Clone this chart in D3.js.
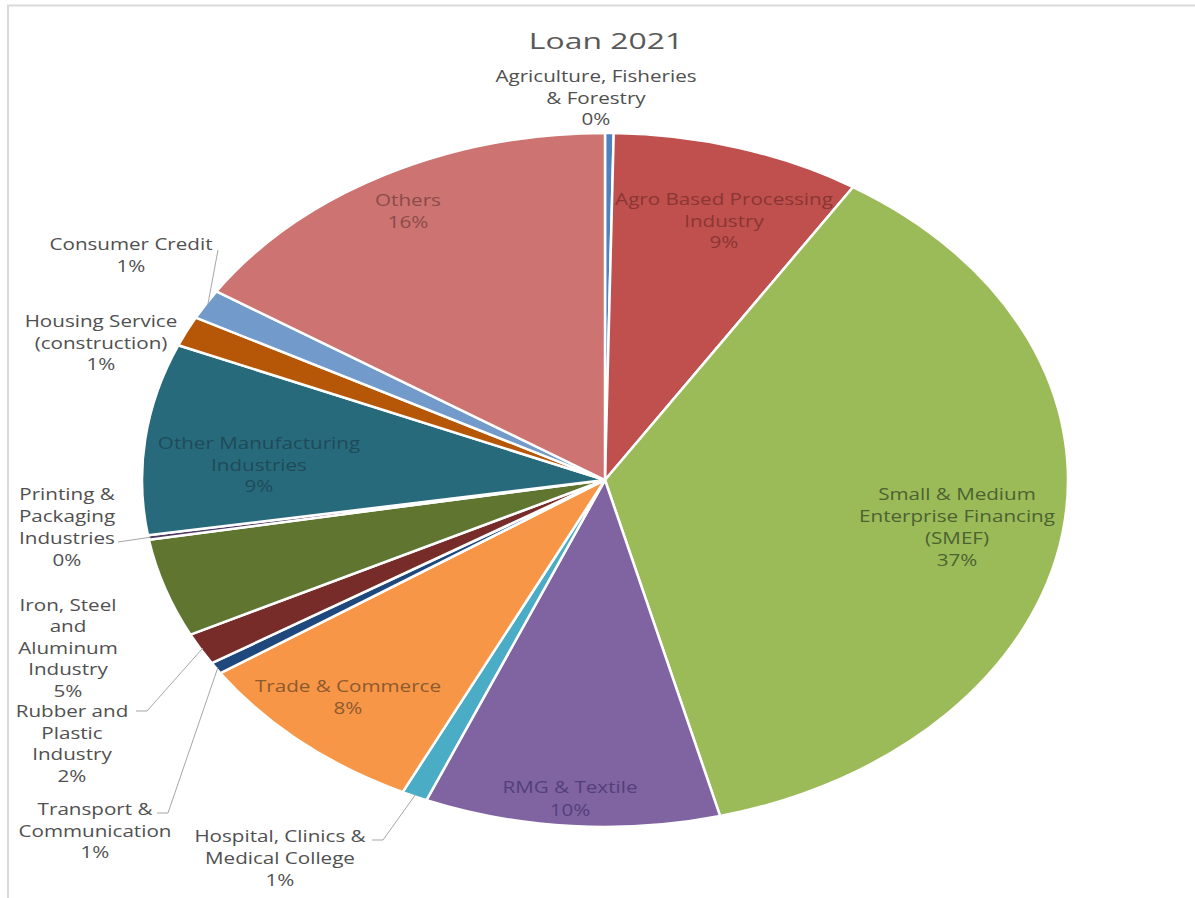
<!DOCTYPE html>
<html>
<head>
<meta charset="utf-8">
<script src="https://cdn.jsdelivr.net/npm/d3@7"></script>
<style>
  html, body { margin: 0; padding: 0; background: #ffffff; }
  svg { display: block; }
  text { font-family: "Open Sans", "Noto Sans", sans-serif; }
</style>
</head>
<body>
<svg id="chart" width="1195" height="898"></svg>
<script>
// ---------------- DATA ----------------
const title = "Loan 2021";
const categories = [
  "Agriculture, Fisheries & Forestry",
  "Agro Based Processing Industry",
  "Small & Medium Enterprise Financing (SMEF)",
  "RMG & Textile",
  "Hospital, Clinics & Medical College",
  "Trade & Commerce",
  "Transport & Communication",
  "Rubber and Plastic Industry",
  "Iron, Steel and Aluminum Industry",
  "Printing & Packaging Industries",
  "Other Manufacturing Industries",
  "Housing Service (construction)",
  "Consumer Credit",
  "Others"
];
const values = [0.3, 8.7, 37.0, 10.3, 0.9, 8.4, 0.55, 1.5, 4.6, 0.2, 8.9, 1.4, 1.4, 15.85];
// how each category name is broken into label lines
const labelLines = [
  ["Agriculture, Fisheries", "& Forestry"],
  ["Agro Based Processing", "Industry"],
  ["Small & Medium", "Enterprise Financing", "(SMEF)"],
  ["RMG & Textile"],
  ["Hospital, Clinics &", "Medical College"],
  ["Trade & Commerce"],
  ["Transport &", "Communication"],
  ["Rubber and", "Plastic", "Industry"],
  ["Iron, Steel", "and", "Aluminum", "Industry"],
  ["Printing &", "Packaging", "Industries"],
  ["Other Manufacturing", "Industries"],
  ["Housing Service", "(construction)"],
  ["Consumer Credit"],
  ["Others"]
];

// ---------------- STYLE / LAYOUT ----------------
const colors = ["#4f81bd", "#c0504d", "#9bbb59", "#8064a2", "#4bacc6", "#f79646",
                "#1f497d", "#772c2a", "#5f7530", "#4d3b62", "#276a7c", "#b65708",
                "#729aca", "#cd7371"];
const outsideColor = "#505050";
const insideColors = {1: "#8a3634", 2: "#4d6231", 3: "#53407a", 5: "#8c5a2e", 10: "#1f4a58", 13: "#8a4b4a"};
// label anchor: centre x, first baseline y
const labelPos = [
  [596, 82], [724, 205], [957, 500], [570, 793], [280, 842], [348, 692],
  [95, 815], [72, 717], [68, 611], [67, 500], [259, 449], [101, 327], [131, 250], [408, 206]
];
const lineHs = [21.7, 21.7, 22, 22.5, 22, 21.7, 21.7, 21.5, 21.4, 22, 21.7, 21.7, 22, 22];
// leader lines: label-side polyline start (slice end computed from arc)
const leaders = {
  12: [[218, 250]],
  9: [[118, 542]],
  7: [[136, 711], [147, 711]],
  6: [[157, 813], [168, 813]],
  4: [[372, 840], [383, 840]]
};

const cx = 605, cy = 480, rx = 463, ry = 347;
const fontSize = 16.5, textScale = 1.25;

const svg = d3.select("#chart");

// frame
svg.append("line").attr("x1", 8).attr("y1", 5).attr("x2", 8).attr("y2", 898)
  .attr("stroke", "#d9d9d9").attr("stroke-width", 2);
svg.append("line").attr("x1", 7).attr("y1", 5.5).attr("x2", 1195).attr("y2", 5.5)
  .attr("stroke", "#d9d9d9").attr("stroke-width", 2);

// title
svg.append("text")
  .attr("transform", `translate(606,49) scale(1.45,1)`)
  .attr("text-anchor", "middle")
  .attr("font-size", 22)
  .attr("fill", "#595959")
  .text(title);

// pie
const pie = d3.pie().sort(null).value(d => d);
const arcs = pie(values);
const arc = d3.arc().innerRadius(0).outerRadius(ry);

const g = svg.append("g").attr("transform", `translate(${cx},${cy}) scale(${rx / ry},1)`);
g.selectAll("path").data(arcs).join("path")
  .attr("d", arc)
  .attr("fill", (d, i) => colors[i])
  .attr("stroke", "#ffffff")
  .attr("stroke-width", 2.5)
  .attr("vector-effect", "non-scaling-stroke")
  .attr("stroke-linejoin", "round");

// leader lines
const edgePoint = (d, f) => {
  const a = (d.startAngle + d.endAngle) / 2;
  return [cx + rx * f * Math.sin(a), cy - ry * f * Math.cos(a)];
};
Object.keys(leaders).forEach(k => {
  const i = +k;
  const pts = leaders[k].concat([edgePoint(arcs[i], 0.995)]);
  svg.append("path")
    .attr("d", d3.line()(pts))
    .attr("fill", "none")
    .attr("stroke", "#a6a6a6")
    .attr("stroke-width", 1);
});

// labels
const total = d3.sum(values);
categories.forEach((c, i) => {
  const lines = labelLines[i].concat([Math.round(values[i] / total * 100) + "%"]);
  const [lx, ly] = labelPos[i];
  const col = insideColors[i] || outsideColor;
  lines.forEach((t, j) => {
    svg.append("text")
      .attr("transform", `translate(${lx},${ly + j * lineHs[i]}) scale(${textScale},1)`)
      .attr("text-anchor", "middle")
      .attr("font-size", fontSize)
      .attr("fill", col)
      .text(t);
  });
});
</script>
</body>
</html>
